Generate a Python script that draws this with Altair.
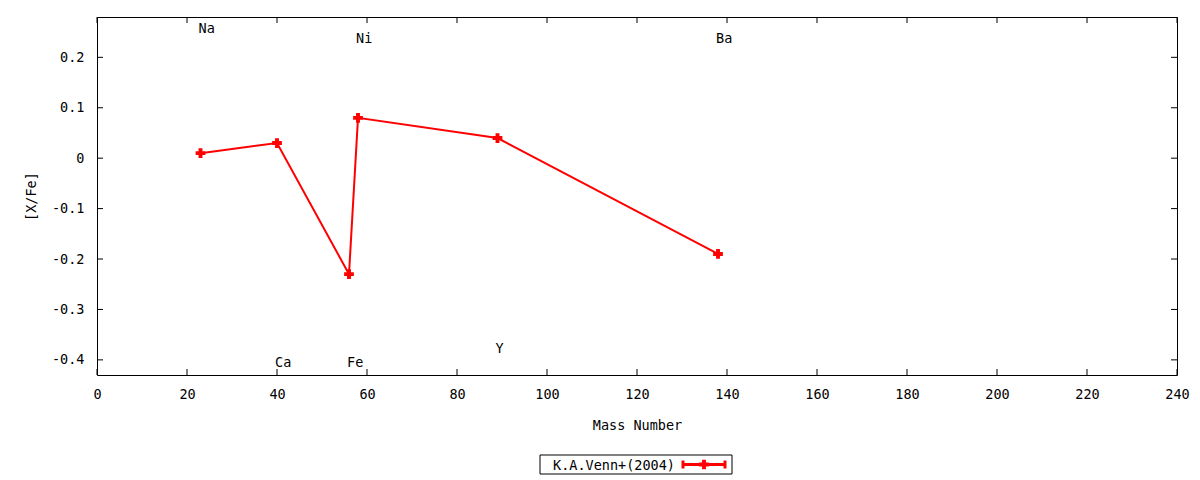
import altair as alt
import pandas as pd

elements = ["Na", "Ca", "Fe", "Ni", "Y", "Ba"]
mass = [23, 40, 56, 58, 89, 138]
xfe = [0.01, 0.03, -0.23, 0.08, 0.04, -0.19]
label_y = [0.257, -0.407, -0.407, 0.237, -0.379, 0.237]
x_ticks = [0, 20, 40, 60, 80, 100, 120, 140, 160, 180, 200, 220, 240]
y_ticks = [-0.4, -0.3, -0.2, -0.1, 0.0, 0.1, 0.2]
legend_label = "K.A.Venn+(2004)"

W, H = 1080, 358
FONT = "DejaVu Sans Mono"
FS = 13.5
RED = "#ff0000"

df = pd.DataFrame({"el": elements, "mass": mass, "xfe": xfe, "ly": label_y,
                   "order": list(range(len(elements)))})
xt = pd.DataFrame({"v": x_ticks})
yt = pd.DataFrame({"v": y_ticks})

xscale = alt.Scale(domain=[0, 240], nice=False, zero=False)
yscale = alt.Scale(domain=[-0.43, 0.28], nice=False, zero=False)

xaxis = alt.Axis(values=x_ticks, title="Mass Number", grid=False, ticks=False,
                 domain=False, labelPadding=12, titlePadding=18, labelFlush=False)
yaxis = alt.Axis(values=y_ticks, title="[X/Fe]", grid=False, ticks=False,
                 domain=False, labelPadding=13, titlePadding=13,
                 labelExpr="datum.value == 0 ? '0' : replace(format(datum.value, '.1f'), '\u2212', '-')")

base = alt.Chart(df)

line = base.mark_line(color=RED, strokeWidth=2).encode(
    x=alt.X("mass:Q", scale=xscale, axis=xaxis),
    y=alt.Y("xfe:Q", scale=yscale, axis=yaxis),
    order="order:Q",
)
pts = base.mark_point(shape="cross", filled=True, color=RED, size=95, opacity=1).encode(
    x=alt.X("mass:Q", scale=xscale), y=alt.Y("xfe:Q", scale=yscale))
labels = base.mark_text(align="left", baseline="middle", dx=-2, font=FONT,
                        fontSize=FS, color="black").encode(
    x=alt.X("mass:Q", scale=xscale), y=alt.Y("ly:Q", scale=yscale), text="el:N")

tk = 6
xt_bot = alt.Chart(xt).mark_rule(color="black", strokeWidth=1).encode(
    x=alt.X("v:Q", scale=xscale), y=alt.value(H - tk), y2=alt.value(H))
xt_top = alt.Chart(xt).mark_rule(color="black", strokeWidth=1).encode(
    x=alt.X("v:Q", scale=xscale), y=alt.value(0), y2=alt.value(tk))
yt_l = alt.Chart(yt).mark_rule(color="black", strokeWidth=1).encode(
    y=alt.Y("v:Q", scale=yscale), x=alt.value(0), x2=alt.value(tk))
yt_r = alt.Chart(yt).mark_rule(color="black", strokeWidth=1).encode(
    y=alt.Y("v:Q", scale=yscale), x=alt.value(W - tk), x2=alt.value(W))

# legend (manual, gnuplot style)
leg_df = pd.DataFrame({"t": [legend_label]})
lx0, lx1, ly0, ly1 = 443, 635, 438, 457
lyc = (ly0 + ly1) / 2
leg_box = alt.Chart(leg_df).mark_rect(fill="white", stroke="black", strokeWidth=1).encode(
    x=alt.value(lx0), x2=alt.value(lx1), y=alt.value(ly0), y2=alt.value(ly1))
leg_text = alt.Chart(leg_df).mark_text(align="right", baseline="middle", font=FONT,
                                       fontSize=FS, color="black").encode(
    x=alt.value(578), y=alt.value(lyc + 1), text="t:N")
leg_line = alt.Chart(leg_df).mark_rule(color=RED, strokeWidth=3).encode(
    x=alt.value(586), x2=alt.value(628), y=alt.value(lyc))
leg_cap1 = alt.Chart(leg_df).mark_rule(color=RED, strokeWidth=3).encode(
    x=alt.value(586), y=alt.value(lyc - 4), y2=alt.value(lyc + 4))
leg_cap2 = alt.Chart(leg_df).mark_rule(color=RED, strokeWidth=3).encode(
    x=alt.value(628), y=alt.value(lyc - 4), y2=alt.value(lyc + 4))
leg_pt = alt.Chart(leg_df).mark_point(shape="cross", filled=True, color=RED, size=95,
                                      opacity=1).encode(
    x=alt.value(607), y=alt.value(lyc))

chart = alt.layer(
    line, pts, labels, xt_bot, xt_top, yt_l, yt_r,
    leg_box, leg_text, leg_line, leg_cap1, leg_cap2, leg_pt,
).properties(
    width=W, height=H,
    background="white",
    autosize=alt.AutoSizeParams(type="none"),
    padding={"left": 89, "top": 9, "right": 15, "bottom": 105},
).configure_view(
    stroke="black", strokeWidth=1
).configure_axis(
    labelFont=FONT, titleFont=FONT, labelFontSize=FS, titleFontSize=FS,
    labelColor="black", titleColor="black", titleFontWeight="normal",
)

chart.save("out.html", embed_options={"renderer": "svg", "actions": False})
